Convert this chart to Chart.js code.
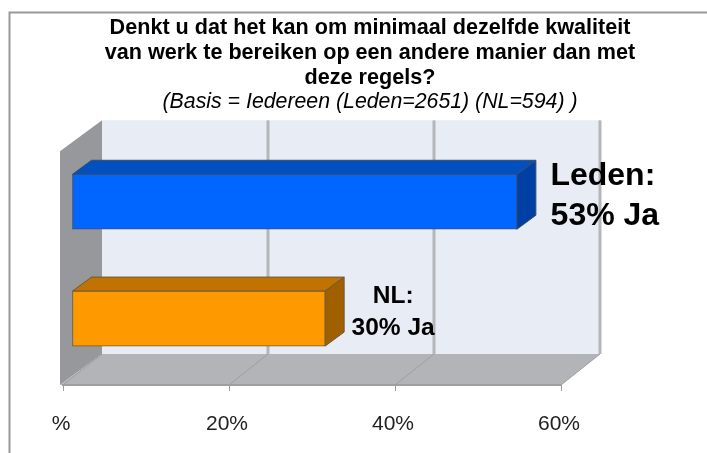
<!DOCTYPE html>
<html>
<head>
<meta charset="utf-8">
<style>
  html, body { margin: 0; padding: 0; background: #fff; }
  #wrap { width: 707px; height: 453px; }
</style>
<script src="https://cdn.jsdelivr.net/npm/chart.js@4"></script>
</head>
<body>
<div id="wrap"><canvas id="chart" width="707" height="453"></canvas></div>
<script>
// values
const categories = ['Leden', 'NL'];
const seriesValues = [53.6, 30.5];
const barLabels = [['Leden:', '53% Ja'], ['NL:', '30% Ja']];
const tickLabels = ['%', '20%', '40%', '60%'];
const titleLines = [
  'Denkt u dat het kan om minimaal dezelfde kwaliteit',
  'van werk te bereiken op een andere manier dan met',
  'deze regels?'
];
const subtitleLine = '(Basis = Iedereen (Leden=2651) (NL=594) )';

const frontColors = ['#0066FF', '#FF9900'];
const topColors = ['#0050C0', '#C07300'];
const sideColors = ['#0040A4', '#A06000'];
const edgeColors = ['#3C4C6C', '#6C5A3C'];

// 3D look: depth of the box and of the bars
const wallDx = 39, wallDy = -31;
const barShiftX = 9, barShiftY = -8;
const barDx = 19, barDy = -14;
const titleCenter = 370, titleHalfWidth = 320; // title sits right of the plot centre

function poly(ctx, pts, fill, stroke) {
  ctx.beginPath();
  pts.forEach((p, i) => i ? ctx.lineTo(p[0], p[1]) : ctx.moveTo(p[0], p[1]));
  ctx.closePath();
  ctx.fillStyle = fill;
  ctx.fill();
  if (stroke) {
    ctx.strokeStyle = stroke;
    ctx.lineWidth = 1;
    ctx.stroke();
  }
}

const box3d = {
  id: 'box3d',
  afterLayout(chart) {
    // wider than the plot, otherwise the title gets squeezed to maxWidth
    chart.boxes.filter(b => b.position === 'top').forEach(b => {
      b.left = titleCenter - titleHalfWidth;
      b.right = titleCenter + titleHalfWidth;
    });
  },
  beforeDraw(chart) {
    const ctx = chart.ctx, a = chart.chartArea, xs = chart.scales.x;
    ctx.save();
    // picture frame, only top and left
    ctx.strokeStyle = '#999';
    ctx.lineWidth = 2;
    ctx.beginPath();
    ctx.moveTo(9.5, 453);
    ctx.lineTo(9.5, 12.5);
    ctx.lineTo(707, 12.5);
    ctx.stroke();

    const left = a.left - 3;
    // back wall
    poly(ctx, [[a.left + wallDx, a.top + wallDy], [a.right + wallDx, a.top + wallDy],
      [a.right + wallDx, a.bottom + wallDy], [a.left + wallDx, a.bottom + wallDy]], '#E8ECF4');
    // left wall
    poly(ctx, [[left, a.top], [a.left + wallDx, a.top + wallDy],
      [a.left + wallDx, a.bottom + wallDy], [left, a.bottom]], '#96989C');
    // floor
    poly(ctx, [[left, a.bottom], [a.left + wallDx, a.bottom + wallDy],
      [a.right + wallDx, a.bottom + wallDy], [a.right, a.bottom]], '#B2B4B8');

    // grid lines on the wall and the floor
    tickLabels.forEach((t, i) => {
      const x = xs.getPixelForValue(i * 20);
      ctx.strokeStyle = '#9C9EA2';
      ctx.lineWidth = 1;
      ctx.beginPath();
      ctx.moveTo(x, a.bottom);
      ctx.lineTo(x + wallDx, a.bottom + wallDy);
      ctx.stroke();
      if (i > 0) {
        ctx.strokeStyle = '#B4B6BA';
        ctx.lineWidth = 3;
        ctx.beginPath();
        ctx.moveTo(x + wallDx, a.bottom + wallDy);
        ctx.lineTo(x + wallDx, a.top + wallDy);
        ctx.stroke();
      }
    });
    ctx.restore();
  },
  beforeDatasetsDraw(chart) {
    const ctx = chart.ctx;
    ctx.save();
    ctx.translate(barShiftX, barShiftY);
    chart.getDatasetMeta(0).data.forEach((bar, i) => {
      const top = bar.y - bar.height / 2, bottom = bar.y + bar.height / 2;
      poly(ctx, [[bar.base, top], [bar.base + barDx, top + barDy],
        [bar.x + barDx, top + barDy], [bar.x, top]], topColors[i], edgeColors[i]);
      poly(ctx, [[bar.x, top], [bar.x + barDx, top + barDy],
        [bar.x + barDx, bottom + barDy], [bar.x, bottom]], sideColors[i], edgeColors[i]);
    });
    // stays shifted for the front faces, restored in afterDatasetsDraw
  },
  afterDatasetsDraw(chart) {
    const ctx = chart.ctx;
    ctx.restore();
    // text next to the bars
    const bars = chart.getDatasetMeta(0).data;
    ctx.save();
    ctx.fillStyle = '#000';
    ctx.textAlign = 'center';
    ctx.textBaseline = 'middle';
    ctx.font = 'bold 32px "Liberation Sans", Arial, sans-serif';
    ctx.fillText(barLabels[0][0], bars[0].x + 95, bars[0].y - 34);
    ctx.fillText(barLabels[0][1], bars[0].x + 97, bars[0].y + 6);
    ctx.font = 'bold 24.5px "Liberation Sans", Arial, sans-serif';
    ctx.fillText(barLabels[1][0], bars[1].x + 77, bars[1].y - 30);
    ctx.fillText(barLabels[1][1], bars[1].x + 77, bars[1].y + 2);
    ctx.restore();
  }
};

new Chart(document.getElementById('chart').getContext('2d'), {
  type: 'bar',
  data: {
    labels: categories,
    datasets: [{
      data: seriesValues,
      backgroundColor: frontColors,
      borderColor: edgeColors,
      borderWidth: 1,
      borderSkipped: false,
      barThickness: 55
    }]
  },
  plugins: [box3d],
  options: {
    indexAxis: 'y',
    responsive: false,
    animation: false,
    layout: { padding: { left: 63, right: 146, top: 0, bottom: 0 } },
    plugins: {
      legend: { display: false },
      tooltip: { enabled: false },
      title: {
        display: true,
        text: titleLines,
        color: '#000',
        font: { family: '"Liberation Sans", Arial, sans-serif', size: 21.6, weight: 'bold', lineHeight: 1.14 },
        padding: { top: 16, bottom: 0 }
      },
      subtitle: {
        display: true,
        text: subtitleLine,
        color: '#000',
        font: { family: '"Liberation Sans", Arial, sans-serif', size: 21.3, style: 'italic', weight: 'normal', lineHeight: 1.15 },
        padding: { top: 0, bottom: 37 }
      }
    },
    scales: {
      y: { display: false, grid: { display: false } },
      x: {
        min: 0,
        max: 60,
        afterFit(scale) { scale.height = 68; },
        border: { color: '#9C9EA2', width: 2 },
        grid: { drawOnChartArea: false, color: '#9C9EA2', tickLength: 6 },
        ticks: {
          stepSize: 20,
          padding: 21,
          labelOffset: -2,
          color: '#222',
          maxRotation: 0,
          font: { family: '"Liberation Sans", Arial, sans-serif', size: 21 },
          callback: (v, i) => tickLabels[i]
        }
      }
    }
  }
});
</script>
</body>
</html>
